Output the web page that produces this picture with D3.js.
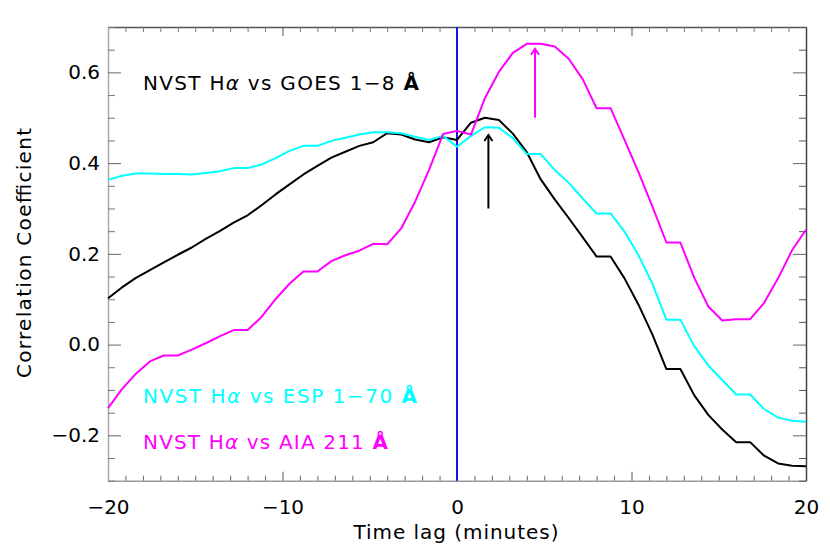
<!DOCTYPE html>
<html>
<head>
<meta charset="utf-8">
<script src="https://cdn.jsdelivr.net/npm/d3@7"></script>
<style>
  html, body { margin: 0; padding: 0; background: #fff; }
  svg { display: block; }
  text { font-family: "DejaVu Sans", sans-serif; }
</style>
</head>
<body>
<svg id="chart" width="830" height="553"></svg>
<script>
// ---- data ----
const lags = [-20.0,-19.2,-18.4,-17.6,-16.8,-16.0,-15.2,-14.4,-13.6,-12.8,
  -12.0,-11.2,-10.4,-9.6,-8.8,-8.0,-7.2,-6.4,-5.6,-4.8,
  -4.0,-3.2,-2.4,-1.6,-0.8,0.0,0.8,1.6,2.4,3.2,
  4.0,4.8,5.6,6.4,7.2,8.0,8.8,9.6,10.4,11.2,
  12.0,12.8,13.6,14.4,15.2,16.0,16.8,17.6,18.4,19.2,20.0];

const goes = [0.102,0.126,0.147,0.164,0.181,0.198,0.214,0.233,0.250,0.269,
  0.285,0.307,0.331,0.353,0.375,0.394,0.412,0.425,0.438,0.446,
  0.466,0.463,0.452,0.446,0.457,0.451,0.489,0.500,0.495,0.465,
  0.424,0.364,0.320,0.279,0.237,0.194,0.194,0.146,0.088,0.022,
  -0.054,-0.054,-0.112,-0.155,-0.187,-0.215,-0.215,-0.245,-0.262,-0.267,-0.268];

const esp = [0.363,0.372,0.377,0.377,0.376,0.376,0.375,0.378,0.382,0.389,
  0.389,0.397,0.411,0.427,0.438,0.438,0.449,0.456,0.463,0.468,
  0.468,0.466,0.458,0.451,0.460,0.436,0.460,0.479,0.478,0.455,
  0.420,0.420,0.385,0.357,0.322,0.289,0.289,0.249,0.197,0.134,
  0.055,0.055,-0.004,-0.046,-0.078,-0.110,-0.110,-0.142,-0.161,-0.168,-0.170];

const aia = [-0.140,-0.098,-0.064,-0.037,-0.024,-0.024,-0.011,0.003,0.018,0.032,
  0.032,0.061,0.100,0.134,0.161,0.161,0.184,0.197,0.207,0.222,
  0.221,0.256,0.315,0.385,0.464,0.471,0.463,0.543,0.601,0.643,
  0.663,0.663,0.657,0.630,0.585,0.521,0.521,0.451,0.380,0.304,
  0.225,0.225,0.147,0.084,0.053,0.056,0.056,0.092,0.146,0.208,0.253];

const seriesNames = ["GOES", "ESP", "AIA"];
const legendLabels = [
  ["NVST H", "α", " vs GOES 1−8 ", "Å"],
  ["NVST H", "α", " vs ESP 1−70 ", "Å"],
  ["NVST H", "α", " vs AIA 211 ", "Å"]
];
const xMajorTicks = [-20, -10, 0, 10, 20];
const yMajorTicks = [-0.2, 0.0, 0.2, 0.4, 0.6];
const xTickLabels = ["−20", "−10", "0", "10", "20"];
const yTickLabels = ["−0.2", "0.0", "0.2", "0.4", "0.6"];
// arrows: [lag, from value, to value]
const goesArrow = [1.8, 0.30, 0.462];
const aiaArrow = [4.47, 0.50, 0.652];
const zeroLag = 0;

// ---- layout ----
const svg = d3.select("#chart");
const L = 108, R = 806, T = 27, B = 480.7;
const x = d3.scaleLinear().domain([-20, 20]).range([L, R]);
const y = d3.scaleLinear().domain([-0.3, 0.7]).range([B, T]);

const colors = { GOES: "#000000", ESP: "#00ffff", AIA: "#ff00ff" };
const xMinor = d3.range(-20, 20.001, 1).filter(v => Math.abs(v % 10) > 1e-6);
const yMinor = d3.range(-0.3, 0.7001, 0.05).map(v => +v.toFixed(2))
  .filter(v => !yMajorTicks.some(m => Math.abs(m - v) < 1e-6));

// Axes (inward ticks, mirrored)
function styleAxis(g, lineColor, tickColor) {
  g.select(".domain").attr("stroke", lineColor).attr("stroke-width", 1.5);
  g.selectAll(".tick line").attr("stroke", tickColor).attr("stroke-width", 1);
  g.selectAll("text").attr("font-family", "DejaVu Sans").attr("font-size", 20).attr("fill", "#000");
}

// bottom
const gb = svg.append("g").attr("transform", `translate(0,${B})`)
  .call(d3.axisBottom(x).tickValues(xMajorTicks).tickSize(-9).tickSizeOuter(0).tickPadding(19)
    .tickFormat((d, i) => xTickLabels[i]));
styleAxis(gb, "#9a9a9a", "#555");
svg.append("g").attr("transform", `translate(0,${B})`)
  .call(d3.axisBottom(x).tickValues(xMinor).tickSize(-5).tickSizeOuter(0).tickFormat(""))
  .call(g => { g.select(".domain").remove(); g.selectAll(".tick line").attr("stroke", "#666"); });

// top
const gt = svg.append("g").attr("transform", `translate(0,${T})`)
  .call(d3.axisTop(x).tickValues(xMajorTicks).tickSize(-9).tickSizeOuter(0).tickFormat(""));
styleAxis(gt, "#555", "#555");
svg.append("g").attr("transform", `translate(0,${T})`)
  .call(d3.axisTop(x).tickValues(xMinor).tickSize(-5).tickSizeOuter(0).tickFormat(""))
  .call(g => { g.select(".domain").remove(); g.selectAll(".tick line").attr("stroke", "#777"); });

// left
const gl = svg.append("g").attr("transform", `translate(${L},0)`)
  .call(d3.axisLeft(y).tickValues(yMajorTicks).tickSize(-13).tickSizeOuter(0).tickPadding(8)
    .tickFormat((d, i) => yTickLabels[i]));
styleAxis(gl, "#aaaaaa", "#666");
svg.append("g").attr("transform", `translate(${L},0)`)
  .call(d3.axisLeft(y).tickValues(yMinor).tickSize(-7).tickSizeOuter(0).tickFormat(""))
  .call(g => { g.select(".domain").remove(); g.selectAll(".tick line").attr("stroke", "#777"); });

// right
const gr = svg.append("g").attr("transform", `translate(${R},0)`)
  .call(d3.axisRight(y).tickValues(yMajorTicks).tickSize(-13).tickSizeOuter(0).tickFormat(""));
styleAxis(gr, "#444", "#666");
svg.append("g").attr("transform", `translate(${R},0)`)
  .call(d3.axisRight(y).tickValues(yMinor).tickSize(-7).tickSizeOuter(0).tickFormat(""))
  .call(g => { g.select(".domain").remove(); g.selectAll(".tick line").attr("stroke", "#555"); });

// zero-lag line
svg.append("line")
  .attr("x1", x(zeroLag)).attr("x2", x(zeroLag))
  .attr("y1", T).attr("y2", B)
  .attr("stroke", "#1414f0").attr("stroke-width", 2);

// series lines
const line = d3.line().x((d, i) => x(lags[i])).y(d => y(d));
const dataMap = { GOES: goes, ESP: esp, AIA: aia };
seriesNames.forEach(name => {
  svg.append("path")
    .datum(dataMap[name])
    .attr("d", line)
    .attr("fill", "none")
    .attr("stroke", colors[name])
    .attr("stroke-width", 2)
    .attr("stroke-linejoin", "round");
});

// arrows
function arrow(a, color) {
  const ax = x(a[0]), y0 = y(a[1]), y1 = y(a[2]);
  const g = svg.append("g").attr("stroke", color).attr("stroke-width", 2).attr("fill", "none");
  g.append("line").attr("x1", ax).attr("x2", ax).attr("y1", y0).attr("y2", y1);
  g.append("path").attr("d", `M${ax - 4},${y1 + 6} L${ax},${y1} L${ax + 4},${y1 + 6}`)
    .attr("stroke-linejoin", "miter");
}
arrow(goesArrow, colors.GOES);
arrow(aiaArrow, colors.AIA);

// legend-ish labels
const labelPos = [
  { name: "GOES", x: 143, y: 90, w: 276 },
  { name: "ESP", x: 143, y: 403, w: 274 },
  { name: "AIA", x: 143, y: 449, w: 245 }
];
labelPos.forEach((p, k) => {
  const parts = legendLabels[k];
  const t = svg.append("text")
    .attr("x", p.x).attr("y", p.y)
    .attr("font-size", 20)
    .attr("fill", colors[p.name])
    .attr("textLength", p.w)
    .attr("lengthAdjust", "spacing");
  t.append("tspan").text(parts[0]);
  t.append("tspan").attr("font-style", "italic").text(parts[1]);
  t.append("tspan").text(parts[2]);
  t.append("tspan").attr("font-weight", "bold").text(parts[3]);
});

// axis titles
svg.append("text")
  .attr("x", 456).attr("y", 539)
  .attr("text-anchor", "middle")
  .attr("font-size", 20)
  .attr("textLength", 205).attr("lengthAdjust", "spacing")
  .text("Time lag (minutes)");

svg.append("text")
  .attr("transform", "translate(31,253) rotate(-90)")
  .attr("text-anchor", "middle")
  .attr("font-size", 20)
  .attr("textLength", 250).attr("lengthAdjust", "spacing")
  .text("Correlation Coefficient");
</script>
</body>
</html>
